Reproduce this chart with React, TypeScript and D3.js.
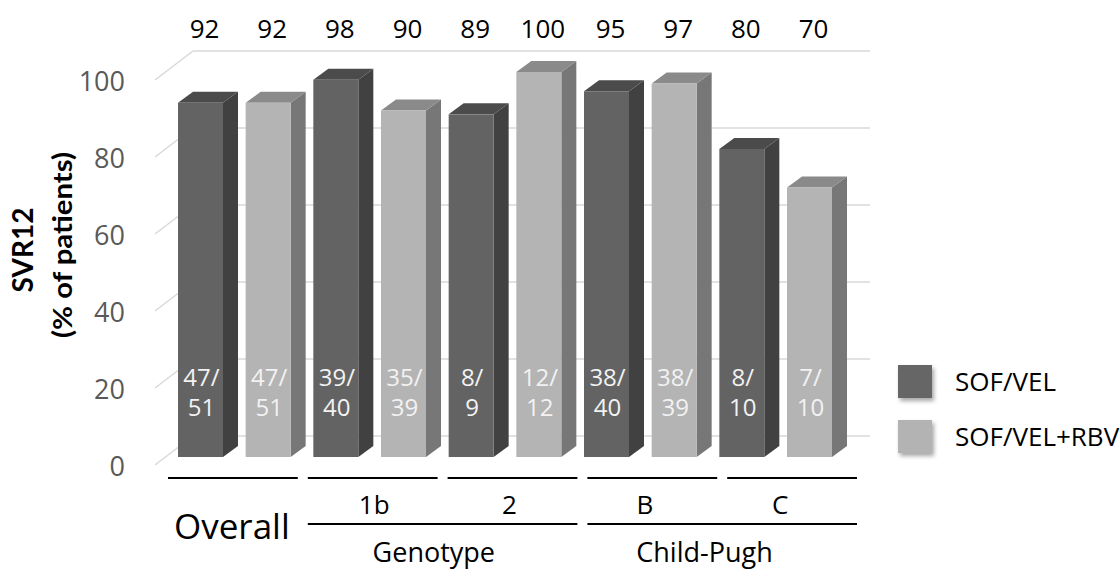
import React from 'react';
import { scaleBand, scaleLinear } from 'd3';

// data
const groups = ['Overall', '1b', '2', 'B', 'C'];
const seriesNames = ['SOF/VEL', 'SOF/VEL+RBV'];
const sofVel = [92, 98, 89, 95, 80];
const sofVelRbv = [92, 90, 100, 97, 70];
const sofVelCounts = ['47/51', '39/40', '8/9', '38/40', '8/10'];
const sofVelRbvCounts = ['47/51', '35/39', '12/12', '38/39', '7/10'];
const superGroups = [
  { name: 'Genotype', members: ['1b', '2'] },
  { name: 'Child-Pugh', members: ['B', 'C'] },
];
const yTicks = [0, 20, 40, 60, 80, 100];

const W = 1120;
const H = 570;
const FONT = "'Open Sans', 'Noto Sans', sans-serif";
const TITLE_FONT = "Lato, 'Open Sans', sans-serif";

// faces: front, side, top
const palette = [
  { front: '#636363', side: '#414141', top: '#4b4b4b', legend: '#666666' },
  { front: '#b4b4b4', side: '#777777', top: '#8a8a8a', legend: '#b3b3b3' },
];

// depth of a bar and of the plot box (oblique projection)
const barDx = 15;
const barDy = 11;
const wallDx = 38;
const wallDy = 29;

type Bar = { key: string; group: string; s: number; value: number; count: string };

const bars: Bar[] = [];
groups.forEach((g, i) => {
  bars.push({ key: g + '-0', group: g, s: 0, value: sofVel[i], count: sofVelCounts[i] });
  bars.push({ key: g + '-1', group: g, s: 1, value: sofVelRbv[i], count: sofVelRbvCounts[i] });
});

export default function App() {
  const x = scaleBand<string>()
    .domain(bars.map(d => d.key))
    .range([178, 832])
    .paddingInner(0.335)
    .paddingOuter(0);
  const bw = x.bandwidth();

  // y for the front face of the bars
  const y = scaleLinear().domain([0, 100]).range([457, 72]);
  // plot box: front edge a bit lower, back wall higher
  const yFront = (v: number) => y(v) + 8;
  const yBack = (v: number) => yFront(v) - wallDy;
  const frontX = 155;
  const backX0 = frontX + wallDx;
  const backX1 = 870;

  const gx = scaleBand<string>()
    .domain(groups)
    .range([168, 857])
    .paddingInner(0.0715)
    .paddingOuter(0);

  const pairCenter = (g: string) => {
    const a = x(g + '-0')!;
    const b = x(g + '-1')! + bw + barDx;
    return (a + b) / 2;
  };

  const row1 = 478;
  const row2 = 524;

  return (
    <svg
      width={W}
      height={H}
      style={{ position: 'absolute', left: 0, top: 0, background: '#fff' }}
      fontFamily={FONT}
    >
      <defs>
        <filter id="shadow" x="-30%" y="-30%" width="170%" height="170%">
          <feDropShadow dx="2" dy="3" stdDeviation="2" floodColor="#000" floodOpacity="0.35" />
        </filter>
      </defs>

      {/* gridlines on back wall + floor diagonals */}
      <g stroke="#d9d9d9" strokeWidth={1.5} fill="none">
        {yTicks.map(t => (
          <g key={t}>
            <line x1={frontX} y1={yFront(t)} x2={backX0} y2={yBack(t)} />
            <line x1={backX0} y1={yBack(t)} x2={backX1} y2={yBack(t)} />
          </g>
        ))}
      </g>

      {/* y tick labels */}
      <g fill="#595959" fontSize={27} textAnchor="end">
        {yTicks.map(t => (
          <text key={t} x={125} y={yFront(t) + 2} dy="0.35em">
            {t}
          </text>
        ))}
      </g>

      {/* y title */}
      <g fontWeight="bold" fill="#000" textAnchor="middle" fontFamily={TITLE_FONT}>
        <text transform="translate(33,250) rotate(-90)" fontSize={28}>
          SVR12
        </text>
        <text
          transform="translate(72,245) rotate(-90)"
          fontSize={27}
          textLength={186}
          lengthAdjust="spacingAndGlyphs"
        >
          (% of patients)
        </text>
      </g>

      {/* bars */}
      {bars.map(d => {
        const x0 = x(d.key)!;
        const yt = y(d.value);
        const yb = y(0);
        const c = palette[d.s];
        const side = [
          [x0 + bw, yt],
          [x0 + bw + barDx, yt - barDy],
          [x0 + bw + barDx, yb - barDy],
          [x0 + bw, yb],
        ];
        const top = [
          [x0, yt],
          [x0 + barDx, yt - barDy],
          [x0 + bw + barDx, yt - barDy],
          [x0 + bw, yt],
        ];
        const [n1, n2] = d.count.split('/');
        return (
          <g key={d.key}>
            <polygon points={side.map(p => p.join(',')).join(' ')} fill={c.side} />
            <polygon points={top.map(p => p.join(',')).join(' ')} fill={c.top} />
            <rect x={x0} y={yt} width={bw} height={yb - yt} fill={c.front} />
            <g fill="#f2f2f2" fontSize={24} textAnchor="middle">
              <text x={x0 + bw / 2 + 1} y={yb - 79} dy="0.35em">
                {n1 + '/'}
              </text>
              <text x={x0 + bw / 2 + 1} y={yb - 49} dy="0.35em">
                {n2}
              </text>
            </g>
            <text
              x={x0 + bw / 2 + 4}
              y={29}
              dy="0.35em"
              fontSize={26}
              textAnchor="middle"
              fill="#000"
            >
              {d.value}
            </text>
          </g>
        );
      })}

      {/* category axis */}
      <g stroke="#000" strokeWidth={2}>
        {groups.map(g => (
          <line key={g} x1={gx(g)!} x2={gx(g)! + gx.bandwidth()} y1={row1} y2={row1} />
        ))}
        {superGroups.map(sg => (
          <line
            key={sg.name}
            x1={gx(sg.members[0])!}
            x2={gx(sg.members[sg.members.length - 1])! + gx.bandwidth()}
            y1={row2}
            y2={row2}
          />
        ))}
      </g>
      <g fill="#000" textAnchor="middle">
        {groups.slice(1).map(g => (
          <text key={g} x={pairCenter(g) - 3} y={505} dy="0.35em" fontSize={26}>
            {g}
          </text>
        ))}
        <text x={gx(groups[0])! + gx.bandwidth() / 2 - 1} y={527} dy="0.35em" fontSize={35}>
          {groups[0]}
        </text>
        {superGroups.map(sg => {
          const c =
            (pairCenter(sg.members[0]) + pairCenter(sg.members[sg.members.length - 1])) / 2;
          return (
            <text key={sg.name} x={c - 11} y={553} dy="0.35em" fontSize={27}>
              {sg.name}
            </text>
          );
        })}
      </g>

      {/* legend */}
      <g>
        {seriesNames.map((s, i) => (
          <g key={s} transform={`translate(898,${365 + i * 55})`}>
            <rect width={34} height={33} fill={palette[i].legend} filter="url(#shadow)" />
            <text x={57} y={17} dy="0.35em" fontSize={26} fill="#000">
              {s}
            </text>
          </g>
        ))}
      </g>
    </svg>
  );
}
